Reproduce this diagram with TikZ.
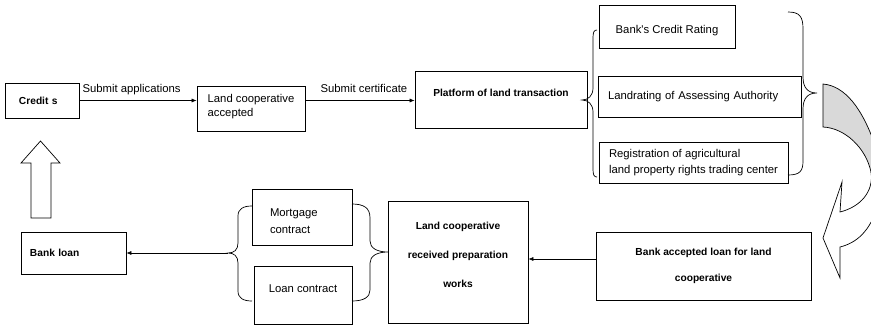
\documentclass[tikz,border=0pt]{standalone}
\usepackage{fontspec}
\setmainfont{Liberation Sans}
\usetikzlibrary{arrows.meta}
\begin{document}
\begin{tikzpicture}[x=1pt,y=-1pt,
  box/.style={draw,line width=0.7pt,inner sep=0pt,font=\fontsize{11.3}{14}\selectfont},
  bbox/.style={box,font=\fontsize{10.2}{28}\selectfont\bfseries},
  lbl/.style={font=\fontsize{11.3}{14}\selectfont,inner sep=5pt,text depth=2.5pt},
  link/.style={-{Latex[length=5pt,width=4pt]},line width=0.6pt},
  curly/.style={line width=0.7pt}]
\useasboundingbox (0,0) rectangle (871,327);
\node[bbox,minimum width=74,minimum height=35,text width=46pt,inner xsep=14pt,align=left] (credit) at (42,100.5) {Credit s};
\node[box,minimum width=108,minimum height=45,align=left,text height=17pt,text depth=2pt] (coop) at (251,108.5) {Land cooperative\\accepted};
\node[bbox,minimum width=172,minimum height=57,text height=7.4pt,text depth=13pt] (plat) at (501,99.5) {Platform of land transaction};
\node[box,minimum width=136,minimum height=43,text height=15pt,text depth=2pt] (rate) at (667,26.5) {Bank\textquotesingle s Credit Rating};
\node[box,minimum width=203,minimum height=41,text width=183pt,inner xsep=10pt,align=left] (land) at (699.5,96.5) {Landrating of Assessing Authority};
\node[box,minimum width=189,minimum height=41,align=left,font=\fontsize{11.3}{16}\selectfont] (reg) at (693.5,162.5) {Registration of agricultural\\land property rights trading center};
\node[bbox,minimum width=215,minimum height=68,align=center,font=\fontsize{10.2}{26}\selectfont\bfseries] (bankacc) at (703.5,266) {Bank accepted loan for land\\cooperative};
\node[bbox,minimum width=140,minimum height=122,align=center,text height=51.4pt,text depth=0pt,font=\fontsize{10.2}{29}\selectfont\bfseries] (prep) at (458,262) {Land cooperative\\received preparation\\works};
\node[box,minimum width=100,minimum height=56,text width=64pt,inner xsep=18pt,align=left,text height=8.2pt,text depth=10pt,font=\fontsize{11.3}{17}\selectfont] (mort) at (302,217) {Mortgage\\contract};
\node[box,minimum width=98,minimum height=58,text height=8.2pt,text depth=14pt] (loanc) at (303,295.5) {Loan contract};
\node[bbox,minimum width=105,minimum height=42,text width=87pt,inner xsep=9pt,align=left] (bankloan) at (73.5,253) {Bank loan};

\draw[link] (credit.east) -- (credit.east -| coop.west) node[lbl,above,pos=0.445] {Submit applications};
\draw[link] (coop.east |- credit.east) -- (plat.west |- credit.east) node[lbl,above,pos=0.536] {Submit certificate};
\draw[link] ([yshift=7pt]bankacc.west) -- ([yshift=7pt]bankacc.west -| prep.east);
\coordinate (ctip) at (228,253);
\draw[link] (ctip) -- (bankloan.east);

% braces
\draw[curly] (597,30) .. controls (594,30) and (593,32) .. (593,38) -- (593,88) .. controls (593,96) and (588,100) .. (582,100)
  .. controls (588,100) and (593,104) .. (593,112) -- (593,169) .. controls (593,175) and (594,177) .. (597,177);
\draw[curly] (788,12) .. controls (800,12) and (803,17) .. (803,29) -- (803,77) .. controls (803,88) and (808,93) .. (817,93)
  .. controls (808,93) and (803,98) .. (803,109) -- (803,161) .. controls (803,171) and (800,175) .. (788,175);
\draw[curly] (252,206) .. controls (243,206) and (238,209) .. (238,216) -- (238,243) .. controls (238,250) and (234,253) .. (ctip)
  .. controls (234,253) and (238,256) .. (238,263) -- (238,291) .. controls (238,298) and (243,301) .. (252,301);
\draw[curly] (352,204) .. controls (364,204) and (370,208) .. (370,218) -- (370,241) .. controls (370,248) and (377,252) .. (388,252)
  .. controls (377,252) and (370,256) .. (370,263) -- (370,290) .. controls (370,297) and (364,301) .. (352,301);

% curved arrow
\filldraw[fill=black!15,line width=0.7pt] (823,84) .. controls (845,86) and (862,108) .. (875,145) -- (875,172) -- (871,172)
  .. controls (866,148) and (845,128) .. (823,127) -- cycle;
\draw[line width=0.7pt] (871,172) .. controls (874,192) and (860,207) .. (840,212) -- (842,182) -- (823,238) -- (840,278)
  -- (840,247) .. controls (856,243) and (870,232) .. (878,205);

% hollow arrow
\draw[line width=0.7pt] (31,218) -- (31,163) -- (21,163) -- (40.5,141) -- (60,163) -- (51,163) -- (51,218) -- cycle;
\end{tikzpicture}
\end{document}
